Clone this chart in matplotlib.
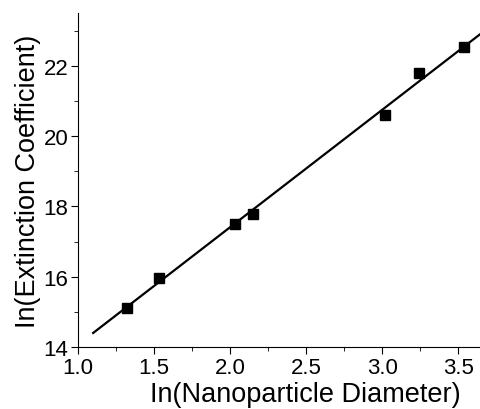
import numpy as np
import matplotlib
matplotlib.use("Agg")
from matplotlib import pyplot as plt
from matplotlib.ticker import MultipleLocator

plt.rcParams['font.family'] = ['Liberation Sans', 'DejaVu Sans']

# data
ln_diameter = [1.32, 1.53, 2.03, 2.15, 3.02, 3.24, 3.54]
ln_extinction = [15.12, 15.97, 17.50, 17.77, 20.60, 21.80, 22.53]
fit_range = [1.1, 3.7]

fig = plt.figure(figsize=(4.81, 4.10), dpi=100)
ax = fig.add_axes([0.162, 0.151, 0.838, 0.815])

# linear fit through the points
slope, intercept = np.polyfit(ln_diameter, ln_extinction, 1)
xf = np.array(fit_range)
ax.plot(xf, slope * xf + intercept, color="black", lw=1.6)
ax.plot(ln_diameter, ln_extinction, "s", color="black", ms=7)

ax.set_xlim(1.0, 3.65)
ax.set_ylim(14, 23.5)
ax.xaxis.set_major_locator(MultipleLocator(0.5))
ax.xaxis.set_minor_locator(MultipleLocator(0.25))
ax.yaxis.set_major_locator(MultipleLocator(2))
ax.yaxis.set_minor_locator(MultipleLocator(1))
ax.xaxis.set_major_formatter(plt.FormatStrFormatter("%.1f"))

ax.spines["top"].set_visible(False)
ax.spines["right"].set_visible(False)
ax.tick_params(which="both", direction="out", labelsize=16, pad=2)
ax.tick_params(which="major", length=5)
ax.tick_params(which="minor", length=3)

ax.set_xlabel("In(Nanoparticle Diameter)", fontsize=19.5)
ax.xaxis.set_label_coords(0.563, -0.1, transform=ax.transAxes)
ax.xaxis.label.set_va("top")
ax.set_ylabel("In(Extinction Coefficient)", fontsize=19.5, labelpad=2)

fig.savefig("out.png", dpi=100)
